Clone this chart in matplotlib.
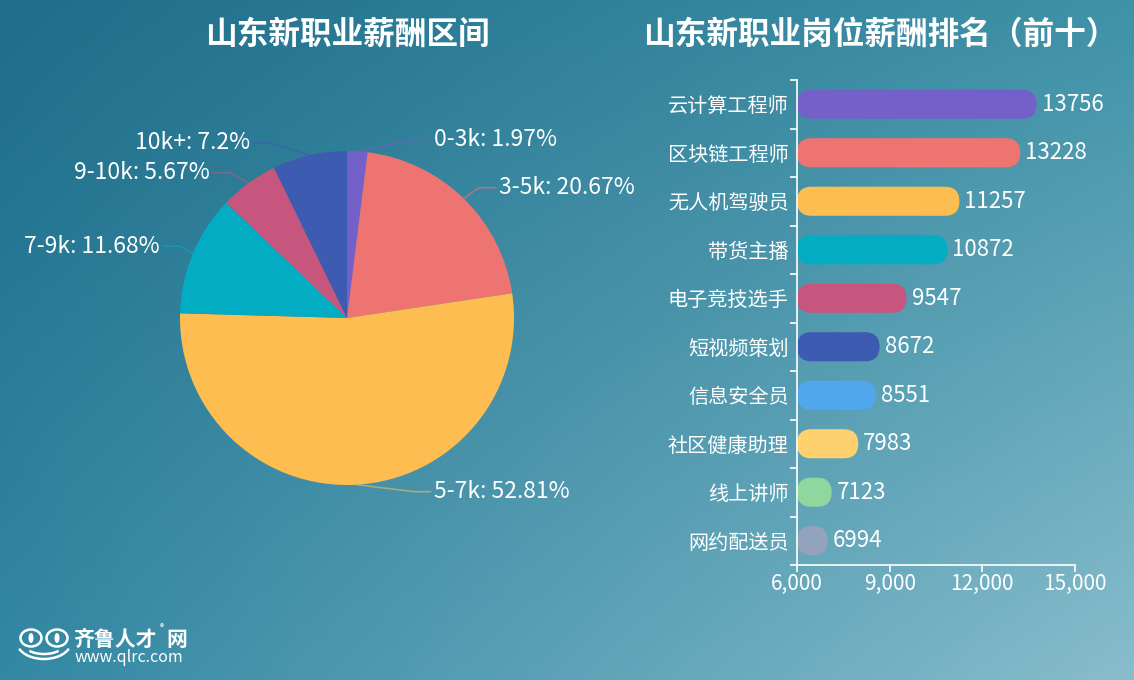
import numpy as np
import matplotlib
matplotlib.use("Agg")
import matplotlib.pyplot as plt
from matplotlib.patches import FancyBboxPatch, Ellipse, Arc
from matplotlib.colors import to_rgb

plt.rcParams['font.family'] = ['Noto Sans CJK SC', 'DejaVu Sans']

# pie data
pie_labels = ['0-3k', '3-5k', '5-7k', '7-9k', '9-10k', '10k+']
pie_values = [1.97, 20.67, 52.81, 11.68, 5.67, 7.2]
pie_colors = ['#7460c9', '#ee7472', '#fdbd50', '#02adc4', '#c6567e', '#3d5bb0']
# label anchor positions (in pie radius units)
pie_label_pos = [(0.52, 1.07), (0.91, 0.78), (0.52, -1.04),
                 (-1.12, 0.43), (-0.82, 0.87), (-0.58, 1.05)]

# bar data
jobs = ['云计算工程师', '区块链工程师', '无人机驾驶员', '带货主播', '电子竞技选手',
        '短视频策划', '信息安全员', '社区健康助理', '线上讲师', '网约配送员']
salary = [13756, 13228, 11257, 10872, 9547, 8672, 8551, 7983, 7123, 6994]
bar_colors = ['#7460c9', '#ee7472', '#fdbd50', '#02adc4', '#c6567e',
              '#3d5bb0', '#50a7ec', '#fdd26e', '#8fd79f', '#94a3bd']
x_ticks = [6000, 9000, 12000, 15000]

W, H = 1134, 680
fig = plt.figure(figsize=(W / 100, H / 100), dpi=100)

# background gradient
bg = fig.add_axes([0, 0, 1, 1])
tl, tr = np.array(to_rgb('#1e6d8a')), np.array(to_rgb('#3f92a8'))
bl, br = np.array(to_rgb('#3388a3')), np.array(to_rgb('#88bdcc'))
u = np.linspace(0, 1, 200)[None, :, None]
v = np.linspace(0, 1, 120)[:, None, None]
img = (1 - v) * ((1 - u) * tl + u * tr) + v * ((1 - u) * bl + u * br)
bg.imshow(img, aspect='auto', extent=[0, 1, 0, 1], origin='upper')
bg.set_xlim(0, 1)
bg.set_ylim(0, 1)
bg.axis('off')

# titles
fig.text(347 / W, 1 - 35 / H, '山东新职业薪酬区间', color='white', fontsize=22.8,
         fontweight='bold', ha='center', va='center')
fig.text(880 / W, 1 - 35 / H, '山东新职业岗位薪酬排名（前十）', color='white', fontsize=22.8,
         fontweight='bold', ha='center', va='center')

# ---- pie ----
R = 167
cx, cy = 347, 318
half = 250
ax1 = fig.add_axes([(cx - half) / W, (H - cy - half) / H, 2 * half / W, 2 * half / H])
wedges, _ = ax1.pie(pie_values, colors=pie_colors, startangle=90, counterclock=False,
                    radius=1, wedgeprops=dict(linewidth=0))
lim = half / R
ax1.set_xlim(-lim, lim)
ax1.set_ylim(-lim, lim)
ax1.set_aspect('equal')
ax1.axis('off')

total = sum(pie_values)
cum = 0
for lab, val, col, (lx, ly) in zip(pie_labels, pie_values, pie_colors, pie_label_pos):
    mid = 90 - (cum + val / 2) / total * 360
    cum += val
    ex, ey = np.cos(np.radians(mid)), np.sin(np.radians(mid))
    right = lx > 0
    gap = 0.02 if right else -0.02
    elbow_x = lx - (0.12 if right else -0.12)
    ax1.plot([ex, elbow_x, lx - gap], [ey, ly, ly], color=col, lw=1.2, alpha=0.55,
             solid_capstyle='round')
    ax1.text(lx, ly, f'{lab}: {val:g}%', color='white', fontsize=16.5,
             ha='left' if right else 'right', va='center')

# ---- bars ----
ax2 = fig.add_axes([797 / W, (H - 565) / H, 278 / W, 485 / H])
ax2.patch.set_alpha(0)
ax2.set_xlim(6000, 15000)
ax2.set_ylim(len(jobs) - 0.5, -0.5)
bar_h = 0.6
# convert half bar height to x data units so the caps are round
px_per_x = 278 / 9000
px_per_y = 485 / len(jobs)
r_x = bar_h / 2 * px_per_y / px_per_x
aspect = (bar_h / 2) / r_x
for i, (val, col) in enumerate(zip(salary, bar_colors)):
    box = FancyBboxPatch((6000, i - bar_h / 2), val - 6000, bar_h,
                         boxstyle=f'round,pad=0,rounding_size={r_x}',
                         mutation_aspect=aspect, facecolor=col, edgecolor='none')
    ax2.add_patch(box)
    ax2.text(val + 5 / px_per_x, i, str(val), color='white', fontsize=16,
             ha='left', va='center')

ax2.set_yticks(range(len(jobs)))
ax2.set_yticklabels(jobs, color='white', fontsize=14.5)
ax2.set_yticks(np.arange(-0.5, len(jobs)), minor=True)
ax2.tick_params(axis='y', which='major', length=0, pad=6)
ax2.tick_params(axis='y', which='minor', length=5, color='white', width=1.2)
ax2.set_xticks(x_ticks)
ax2.set_xticklabels([f'{t:,}' for t in x_ticks], color='white', fontsize=15)
ax2.tick_params(axis='x', length=5, color='white', width=1.2, pad=1)
for s in ['top', 'right']:
    ax2.spines[s].set_visible(False)
for s in ['left', 'bottom']:
    ax2.spines[s].set_color('white')
    ax2.spines[s].set_linewidth(1.2)

# ---- logo ----
lg = fig.add_axes([16 / W, (H - 664) / H, 56 / W, 40 / H])
lg.set_xlim(0, 56)
lg.set_ylim(0, 40)
lg.set_aspect('equal')
lg.axis('off')
for ex_ in (15, 41):
    lg.add_patch(Ellipse((ex_, 26), 21, 17, fill=False, edgecolor='white', lw=1.8))
    lg.add_patch(Ellipse((ex_, 26), 5, 10, facecolor='white', edgecolor='none'))
lg.add_patch(Arc((28, 22), 54, 34, theta1=195, theta2=345, edgecolor='white', lw=1.8))
lg.add_patch(Arc((28, 20), 40, 20, theta1=205, theta2=335, edgecolor='white', lw=1.8))
fig.text(73 / W, 1 - 646 / H, '齐鲁人才', color='white', fontsize=15,
         fontweight='bold', ha='left', va='baseline')
fig.text(160 / W, 1 - 628 / H, '®', color='white', fontsize=6, ha='left', va='center')
fig.text(166 / W, 1 - 646 / H, '网', color='white', fontsize=15,
         fontweight='bold', ha='left', va='baseline')
fig.text(75 / W, 1 - 662 / H, 'www.qlrc.com', color='white', fontsize=11.5,
         ha='left', va='baseline')

fig.savefig('out.png', dpi=100)
